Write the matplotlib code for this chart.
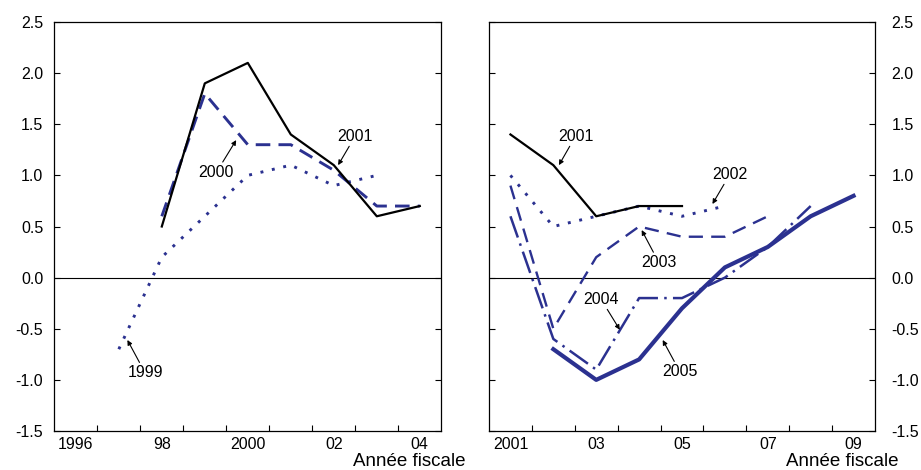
import matplotlib
matplotlib.use("Agg")
import matplotlib.pyplot as plt

plt.rcParams['font.family'] = ['Liberation Sans', 'DejaVu Sans']

# ---------------- data ----------------
# Left panel
left_years_1999 = [1997, 1998, 1999, 2000, 2001, 2002, 2003]
left_vals_1999 = [-0.7, 0.2, 0.6, 1.0, 1.1, 0.9, 1.0]
left_years_2000 = [1998, 1999, 2000, 2001, 2002, 2003, 2004]
left_vals_2000 = [0.6, 1.8, 1.3, 1.3, 1.05, 0.7, 0.7]
left_years_2001 = [1998, 1999, 2000, 2001, 2002, 2003, 2004]
left_vals_2001 = [0.5, 1.9, 2.1, 1.4, 1.1, 0.6, 0.7]

# Right panel
right_years_2001 = [2001, 2002, 2003, 2004, 2005]
right_vals_2001 = [1.4, 1.1, 0.6, 0.7, 0.7]
right_years_2002 = [2001, 2002, 2003, 2004, 2005, 2006]
right_vals_2002 = [1.0, 0.5, 0.6, 0.7, 0.6, 0.7]
right_years_2003 = [2001, 2002, 2003, 2004, 2005, 2006, 2007]
right_vals_2003 = [0.9, -0.5, 0.2, 0.5, 0.4, 0.4, 0.6]
right_years_2004 = [2001, 2002, 2003, 2004, 2005, 2006, 2007, 2008]
right_vals_2004 = [0.6, -0.6, -0.9, -0.2, -0.2, 0.0, 0.3, 0.7]
right_years_2005 = [2002, 2003, 2004, 2005, 2006, 2007, 2008, 2009]
right_vals_2005 = [-0.7, -1.0, -0.8, -0.3, 0.1, 0.3, 0.6, 0.8]

left_xlabel_pos = [1996, 1998, 2000, 2002, 2004]
left_xlabels = ["1996", "98", "2000", "02", "04"]
right_xlabel_pos = [2001, 2003, 2005, 2007, 2009]
right_xlabels = ["2001", "03", "05", "07", "09"]
yticks = [-1.5, -1.0, -0.5, 0.0, 0.5, 1.0, 1.5, 2.0, 2.5]
ytick_labels = ["-1.5", "-1.0", "-0.5", "0.0", "0.5", "1.0", "1.5", "2.0", "2.5"]
xaxis_title = "Année fiscale"

BLUE = "#2B3190"
FS = 11.5

fig = plt.figure(figsize=(9.21, 4.70), dpi=100)
axL = fig.add_axes([54.3 / 921, 1 - 431 / 470, 387 / 921, 409 / 470])
axR = fig.add_axes([489 / 921, 1 - 431 / 470, 386 / 921, 409 / 470])


def style_axis(ax, xmin, xmax, label_pos, labels, label_side):
    ax.set_xlim(xmin, xmax)
    ax.set_ylim(-1.5, 2.5)
    bounds = [x + 0.5 for x in range(int(xmin + 0.5), int(xmax - 0.5))]
    ax.set_xticks(bounds)
    ax.set_xticklabels([])
    ax.set_xticks(label_pos, minor=True)
    ax.set_xticklabels(labels, minor=True, fontsize=FS)
    ax.tick_params(axis='x', which='major', direction='in', length=4, width=0.8)
    ax.tick_params(axis='x', which='minor', length=0, pad=4)
    ax.set_yticks(yticks)
    ax.set_yticklabels(ytick_labels, fontsize=FS)
    ax.tick_params(axis='y', direction='in', length=4, width=0.8, left=True, right=True)
    if label_side == 'left':
        ax.tick_params(axis='y', labelleft=True, labelright=False, pad=8)
    else:
        ax.tick_params(axis='y', labelleft=False, labelright=True, pad=12)
    for s in ax.spines.values():
        s.set_linewidth(0.9)
    ax.axhline(0, color='black', lw=0.8, zorder=1)


style_axis(axL, 1995.5, 2004.5, left_xlabel_pos, left_xlabels, 'left')
style_axis(axR, 2000.5, 2009.5, right_xlabel_pos, right_xlabels, 'right')

# Left panel lines
axL.plot(left_years_1999, left_vals_1999, color=BLUE, lw=2.1, linestyle=(0, (1, 3.0)), zorder=3)
axL.plot(left_years_2000, left_vals_2000, color=BLUE, lw=2.1, linestyle=(0, (5, 2.8)), zorder=3)
axL.plot(left_years_2001, left_vals_2001, color='black', lw=1.6, zorder=4)

# Right panel lines
axR.plot(right_years_2002, right_vals_2002, color=BLUE, lw=2.1, linestyle=(0, (1, 3.0)), zorder=3)
axR.plot(right_years_2003, right_vals_2003, color=BLUE, lw=1.7, linestyle=(0, (6, 3.5)), zorder=3)
axR.plot(right_years_2004, right_vals_2004, color=BLUE, lw=1.8, linestyle=(0, (9, 2.5, 1, 2.5)), zorder=3)
axR.plot(right_years_2005, right_vals_2005, color=BLUE, lw=3.0, zorder=4)
axR.plot(right_years_2001, right_vals_2001, color='black', lw=1.6, zorder=5)

arrow = dict(arrowstyle='-|>', color='black', lw=0.8, mutation_scale=7, shrinkA=0, shrinkB=0)


def note(ax, text, xy, xytext):
    ax.annotate(text, xy=xy, xytext=xytext, fontsize=FS, ha='center', va='center',
                arrowprops=arrow, zorder=6)


# Left annotations (text center, arrow head)
note(axL, "2001", (2002.1, 1.10), (2002.5, 1.385))
note(axL, "2000", (1999.73, 1.345), (1999.27, 1.03))
note(axL, "1999", (1997.2, -0.61), (1997.61, -0.93))

# Right annotations
note(axR, "2001", (2002.13, 1.10), (2002.52, 1.385))
note(axR, "2002", (2005.71, 0.72), (2006.12, 1.013))
note(axR, "2003", (2004.06, 0.465), (2004.46, 0.148))
note(axR, "2004", (2003.55, -0.51), (2003.11, -0.21))
note(axR, "2005", (2004.55, -0.61), (2004.95, -0.92))

fig.text(465 / 921, 1 - 466 / 470, xaxis_title, ha='right', va='baseline', fontsize=13.5)
fig.text(898 / 921, 1 - 466 / 470, xaxis_title, ha='right', va='baseline', fontsize=13.5)

fig.savefig("out.png", dpi=100)
